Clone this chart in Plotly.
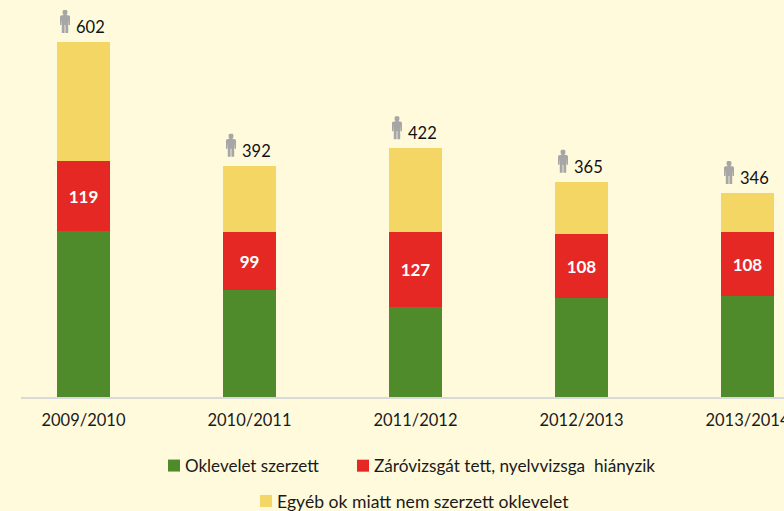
import plotly.graph_objects as go

# Data
categories = ["2009/2010", "2010/2011", "2011/2012", "2012/2013", "2013/2014"]
series_names = ["Oklevelet szerzett", "Záróvizsgát tett, nyelvvizsga  hiányzik",
                "Egyéb ok miatt nem szerzett oklevelet"]
oklevel = [281, 181, 152, 168, 171]
zarovizsga = [119, 99, 127, 108, 108]
egyeb = [202, 112, 143, 89, 67]
totals = [602, 392, 422, 365, 346]
colors = ["#4F8A2B", "#E52823", "#F4D665"]

BG = "#FFFADC"
FONT = "Lato"
W, H = 784, 511
L, T, B = 21, 0, 114
plot_w, plot_h = W - L, H - T - B
px_per_unit = (397 - 42) / 602
spacing = 166
c0 = 83.5
xrange = [(L - c0) / spacing, (W - c0) / spacing]
yrange = [0, plot_h / px_per_unit]


def lx(px):
    return (px - L) / plot_w


def ly(py):
    return (plot_h - py) / plot_h


fig = go.Figure()
fig.add_bar(name=series_names[0], x=categories, y=oklevel, marker_color=colors[0],
            marker_line_width=0, width=53 / spacing, legend="legend")
fig.add_bar(name=series_names[1], x=categories, y=zarovizsga, marker_color=colors[1],
            marker_line_width=0, width=53 / spacing, legend="legend2",
            text=[str(v) for v in zarovizsga],
            textposition="inside", insidetextanchor="middle", textangle=0,
            insidetextfont=dict(family=FONT, size=17, color="white", weight="bold"))
fig.add_bar(name=series_names[2], x=categories, y=egyeb, marker_color=colors[2],
            marker_line_width=0, width=53 / spacing, legend="legend3")

# Person icon anchored to each bar's total, size in pixels: (dx, height above base)
icon_pts = [(-1.5, 23), (1.5, 23), (2.4, 22), (2.4, 19.5), (1.4, 18), (4.2, 17.5), (5, 16.5),
            (5, 8), (3.6, 8), (3.2, 14), (3.2, 0), (0.4, 0), (0.4, 8), (-0.4, 8), (-0.4, 0),
            (-3.2, 0), (-3.2, 14), (-3.6, 8), (-5, 8), (-5, 16.5), (-4.2, 17.5), (-1.4, 18),
            (-2.4, 19.5), (-2.4, 22)]
ICON_DX, ICON_DY = -18.5, 9
icon_path = "M " + " L ".join(f"{x + ICON_DX} {y + ICON_DY}" for x, y in icon_pts) + " Z"
shapes = [dict(type="path", xref="x", yref="y", xsizemode="pixel", ysizemode="pixel",
               xanchor=cat, yanchor=total, path=icon_path,
               fillcolor="#A6A6A6", line_width=0)
          for cat, total in zip(categories, totals)]

annotations = [dict(x=cat, y=total, xref="x", yref="y", text=str(total), showarrow=False,
                    xshift=7, yshift=15, font=dict(family=FONT, size=16.5, color="#111111"))
               for cat, total in zip(categories, totals)]


def legend_at(px, py, size):
    return dict(x=lx(px), y=ly(py), xanchor="left", yanchor="middle", orientation="h",
                bgcolor="rgba(0,0,0,0)", font=dict(family=FONT, size=size, color="#1a1a1a"),
                itemclick=False, itemdoubleclick=False)


fig.update_layout(
    width=W, height=H, barmode="stack", bargap=0, showlegend=True,
    paper_bgcolor=BG, plot_bgcolor=BG,
    margin=dict(l=L, r=0, t=T, b=B, pad=0, autoexpand=False),
    font=dict(family=FONT),
    xaxis=dict(type="category", categoryorder="array", categoryarray=categories, range=xrange,
               showgrid=False, showline=True, linecolor="#D9D9D9", linewidth=2, ticks="",
               zeroline=False, ticklabelstandoff=7,
               tickfont=dict(family=FONT, size=16.5, color="#1a1a1a")),
    yaxis=dict(range=yrange, visible=False),
    legend=legend_at(145, 466, 17),
    legend2=legend_at(334, 466, 17.2),
    legend3=legend_at(237, 501, 17.6),
    shapes=shapes, annotations=annotations,
)
post = """
document.body.style.margin='0';
document.body.style.overflow='hidden';
document.body.style.background='%s';
document.querySelectorAll('.legendsymbols').forEach(function(g){g.setAttribute('transform','translate(9,0)');});
""" % BG
fig.write_html("out.html", post_script=post, config={"displayModeBar": False})
